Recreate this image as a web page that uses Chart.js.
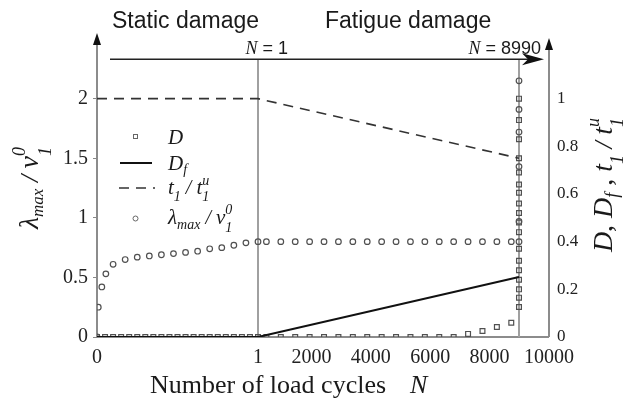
<!DOCTYPE html>
<html>
<head>
<meta charset="utf-8">
<script src="https://cdn.jsdelivr.net/npm/chart.js@4/dist/chart.umd.min.js"></script>
<style>
  body { margin: 0; background: #fff; }
  canvas { display: block; }
</style>
</head>
<body>
<canvas id="myChart" width="632" height="405"></canvas>
<script>
// static part: load fraction within the first cycle (0..1)
var staticS = [0, 0.05, 0.1, 0.15, 0.2, 0.25, 0.3, 0.35, 0.4, 0.45, 0.5, 0.55, 0.6, 0.65, 0.7, 0.75, 0.8, 0.85, 0.9, 0.95, 1];
var dStatic = [0, 0, 0, 0, 0, 0, 0, 0, 0, 0, 0, 0, 0, 0, 0, 0, 0, 0, 0, 0, 0];

var lamStaticS = [0, 0.008, 0.03, 0.055, 0.1, 0.175, 0.25, 0.325, 0.4, 0.475, 0.55, 0.625, 0.7, 0.775, 0.85, 0.925, 1];
var lamStatic = [0, 0.25, 0.42, 0.53, 0.61, 0.65, 0.67, 0.68, 0.69, 0.70, 0.71, 0.72, 0.74, 0.75, 0.77, 0.79, 0.80];

// fatigue part: number of load cycles
var fatigueN = [485, 970, 1455, 1940, 2425, 2910, 3395, 3880, 4365, 4850, 5335, 5820, 6305, 6790, 7275, 7760, 8245, 8730];
var dFatigue = [0, 0, 0, 0, 0, 0, 0, 0, 0, 0, 0, 0, 0, 0, 0.013, 0.025, 0.042, 0.06];
var lamFatigue = [0.8, 0.8, 0.8, 0.8, 0.8, 0.8, 0.8, 0.8, 0.8, 0.8, 0.8, 0.8, 0.8, 0.8, 0.8, 0.8, 0.8, 0.8];

// values stacked at failure, N = 8990
var failN = 8990;
var dFail = [0.126, 0.165, 0.20, 0.24, 0.28, 0.32, 0.37, 0.44, 0.48, 0.52, 0.56, 0.605, 0.64, 0.69, 0.75, 0.83, 0.91, 1.0];
var lamFail = [0.8, 0.97, 1.43, 1.72, 1.91, 2.15];

// Df and t1/t1u lines
var dfS = [0, 1], dfStatic = [0, 0];
var dfN = [1, 8990], dfFatigue = [0, 0.252];
var tS = [0, 1], tStatic = [1, 1];
var tN = [1, 8990], tFatigue = [1, 0.75];

var xTickLabels = ['0', '1', '2000', '4000', '6000', '8000', '10000'];
var xTickStatic = [0, 1];
var xTickFatigue = [2000, 4000, 6000, 8000, 10000];
var yLeftTicks = [0, 0.5, 1, 1.5, 2];
var yRightTicks = [0, 0.2, 0.4, 0.6, 0.8, 1];

// broken x axis: static 0..1 then cycles
function sx(s) { return 161 * s; }
function nx(n) { return Math.max(161, 155 + n * 0.0297); }

function pts(xs, ys, f) {
    return xs.map(function (v, i) { return { x: f(v), y: ys[i] }; });
}
function failPts(ys) {
    return ys.map(function (v) { return { x: nx(failN), y: v }; });
}

var serif = '"Liberation Serif", "DejaVu Serif", serif';
var sans = '"Liberation Sans", Arial, sans-serif';

function drawRich(ctx, x, y, runs, draw) {
    var cx = x, prevX = x;
    runs.forEach(function (r) {
        ctx.font = (r.i ? 'italic ' : '') + r.s + 'px ' + (r.f || serif);
        var w = ctx.measureText(r.t).width;
        var px = r.back ? prevX : cx;
        if (draw) ctx.fillText(r.t, px, y + (r.dy || 0));
        if (r.back) { cx = Math.max(cx, px + w); } else { prevX = px; cx = px + w; }
    });
    return cx - x;
}

function arrowUp(ctx, x, tipY) {
    ctx.beginPath();
    ctx.moveTo(x, tipY);
    ctx.lineTo(x - 4, tipY + 12);
    ctx.lineTo(x + 4, tipY + 12);
    ctx.closePath();
    ctx.fill();
}

var decor = {
    id: 'decor',
    beforeDatasetsDraw: function (chart) {
        var ctx = chart.ctx, a = chart.chartArea;
        var x = chart.scales.x, yL = chart.scales.yL;
        var x1 = x.getPixelForValue(sx(1)), x2 = x.getPixelForValue(nx(failN));
        var topY = yL.getPixelForValue(2.33);
        ctx.save();
        ctx.strokeStyle = '#8c8c8c';
        ctx.lineWidth = 2;
        ctx.beginPath();
        ctx.moveTo(a.left, a.bottom); ctx.lineTo(a.left, 40);
        ctx.moveTo(a.left, a.bottom); ctx.lineTo(a.right, a.bottom);
        ctx.moveTo(a.right, a.bottom); ctx.lineTo(a.right, 45);
        ctx.stroke();
        ctx.strokeStyle = '#a0a0a0';
        ctx.beginPath();
        ctx.moveTo(x1, topY); ctx.lineTo(x1, a.bottom);
        ctx.moveTo(x2, topY); ctx.lineTo(x2, a.bottom);
        ctx.stroke();
        ctx.fillStyle = '#111';
        arrowUp(ctx, a.left, 33);
        arrowUp(ctx, a.right, 38);
        // top arrow
        ctx.strokeStyle = '#222';
        ctx.lineWidth = 1.5;
        ctx.beginPath();
        ctx.moveTo(110, topY); ctx.lineTo(533, topY);
        ctx.stroke();
        ctx.beginPath();
        ctx.moveTo(544, topY);
        ctx.lineTo(522, topY - 6);
        ctx.lineTo(528, topY);
        ctx.lineTo(522, topY + 6);
        ctx.closePath();
        ctx.fill();
        ctx.restore();
    },
    afterDraw: function (chart) {
        var ctx = chart.ctx;
        ctx.save();
        ctx.fillStyle = '#1a1a1a';
        ctx.textBaseline = 'alphabetic';
        ctx.textAlign = 'left';

        ctx.font = '23px ' + sans;
        ctx.fillText('Static damage', 112, 28);
        ctx.fillText('Fatigue damage', 325, 28);

        var n1 = [{ t: 'N', s: 18, i: true }, { t: ' = 1', s: 18, f: sans }];
        var w = drawRich(ctx, 0, 0, n1, false);
        drawRich(ctx, 288 - w, 54, n1, true);
        var n2 = [{ t: 'N', s: 18, i: true }, { t: ' = 8990', s: 18, f: sans }];
        w = drawRich(ctx, 0, 0, n2, false);
        drawRich(ctx, 541 - w, 54, n2, true);

        // x title
        ctx.font = '26px ' + serif;
        ctx.fillText('Number of load cycles', 150, 393);
        ctx.font = 'italic 26px ' + serif;
        ctx.fillText('N', 410, 393);

        // left y title
        var lt = [
            { t: '\u03bb', s: 28, i: true },
            { t: 'max', s: 17, i: true, dy: 5 },
            { t: ' / ', s: 26, i: true },
            { t: 'v', s: 28, i: true },
            { t: '1', s: 18, i: true, dy: 13 },
            { t: '0', s: 18, i: true, dy: -13, back: true }
        ];
        w = drawRich(ctx, 0, 0, lt, false);
        ctx.save();
        ctx.translate(38, 188);
        ctx.rotate(-Math.PI / 2);
        drawRich(ctx, -w / 2, 0, lt, true);
        ctx.restore();

        // right y title
        var rt = [
            { t: 'D', s: 28, i: true },
            { t: ', ', s: 28 },
            { t: 'D', s: 28, i: true },
            { t: 'f', s: 18, i: true, dy: 6 },
            { t: ' , ', s: 28 },
            { t: 't', s: 28, i: true },
            { t: '1', s: 18, i: true, dy: 11 },
            { t: ' / ', s: 26, i: true },
            { t: 't', s: 28, i: true },
            { t: '1', s: 18, i: true, dy: 11 },
            { t: 'u', s: 18, i: true, dy: -13, back: true }
        ];
        w = drawRich(ctx, 0, 0, rt, false);
        ctx.save();
        ctx.translate(612, 185);
        ctx.rotate(-Math.PI / 2);
        drawRich(ctx, -w / 2, 0, rt, true);
        ctx.restore();

        // legend
        var lx = 168;
        ctx.strokeStyle = '#666';
        ctx.lineWidth = 1;
        ctx.strokeRect(133.5, 134.5, 4, 4);
        ctx.beginPath();
        ctx.arc(135.5, 218.5, 2.5, 0, Math.PI * 2);
        ctx.stroke();
        ctx.strokeStyle = '#111';
        ctx.lineWidth = 2;
        ctx.beginPath();
        ctx.moveTo(120, 163); ctx.lineTo(152, 163);
        ctx.stroke();
        ctx.strokeStyle = '#333';
        ctx.lineWidth = 1.6;
        ctx.setLineDash([10, 7]);
        ctx.beginPath();
        ctx.moveTo(119, 188); ctx.lineTo(155, 188);
        ctx.stroke();
        ctx.setLineDash([]);

        drawRich(ctx, lx, 144, [{ t: 'D', s: 21, i: true }], true);
        drawRich(ctx, lx, 170, [{ t: 'D', s: 21, i: true }, { t: 'f', s: 14, i: true, dy: 4 }], true);
        drawRich(ctx, lx, 194, [
            { t: 't', s: 21, i: true }, { t: '1', s: 14, i: true, dy: 7 },
            { t: ' / ', s: 20, i: true },
            { t: 't', s: 21, i: true }, { t: '1', s: 14, i: true, dy: 7 },
            { t: 'u', s: 14, i: true, dy: -9, back: true }
        ], true);
        drawRich(ctx, lx, 224, [
            { t: '\u03bb', s: 21, i: true }, { t: 'max', s: 14, i: true, dy: 5 },
            { t: ' / ', s: 20, i: true },
            { t: 'v', s: 21, i: true }, { t: '1', s: 14, i: true, dy: 8 },
            { t: '0', s: 14, i: true, dy: -10, back: true }
        ], true);
        ctx.restore();
    }
};

function chart() {
    var ctx = document.getElementById('myChart').getContext('2d');
    var marker = '#505050';

    var data = {
        datasets: [
            {
                label: 'Df',
                type: 'line',
                data: pts(dfS, dfStatic, sx).concat(pts(dfN, dfFatigue, nx)),
                yAxisID: 'yR',
                borderColor: '#111',
                borderWidth: 2,
                pointRadius: 0,
                fill: false
            },
            {
                label: 't1/t1u',
                type: 'line',
                data: pts(tS, tStatic, sx).concat(pts(tN, tFatigue, nx)),
                yAxisID: 'yR',
                borderColor: '#333',
                borderWidth: 1.6,
                borderDash: [10, 7],
                pointRadius: 0,
                fill: false
            },
            {
                label: 'D',
                type: 'scatter',
                data: pts(staticS, dStatic, sx).concat(pts(fatigueN, dFatigue, nx), failPts(dFail)),
                yAxisID: 'yR',
                pointStyle: 'rect',
                pointRadius: 3.4,
                borderColor: marker,
                borderWidth: 1.2,
                backgroundColor: 'rgba(255,255,255,0)'
            },
            {
                label: 'lambda',
                type: 'scatter',
                data: pts(lamStaticS, lamStatic, sx).concat(pts(fatigueN, lamFatigue, nx), failPts(lamFail)),
                yAxisID: 'yL',
                pointStyle: 'circle',
                pointRadius: 2.8,
                borderColor: marker,
                borderWidth: 1.2,
                backgroundColor: 'rgba(255,255,255,0)'
            }
        ]
    };

    var xTickPos = xTickStatic.map(sx).concat(xTickFatigue.map(nx));
    function fmt(v) { return String(Math.round(v * 10) / 10); }

    new Chart(ctx, {
        type: 'scatter',
        data: data,
        options: {
            responsive: false,
            animation: false,
            devicePixelRatio: 1,
            layout: { padding: { top: 51, left: 0, right: 0, bottom: 0 } },
            plugins: { legend: { display: false }, tooltip: { enabled: false } },
            scales: {
                x: {
                    type: 'linear',
                    min: 0,
                    max: 452,
                    border: { display: false },
                    grid: { display: false, drawTicks: false },
                    afterBuildTicks: function (scale) {
                        scale.ticks = xTickPos.map(function (v) { return { value: v }; });
                    },
                    afterFit: function (scale) { scale.height = 68; },
                    ticks: {
                        autoSkip: false,
                        maxRotation: 0,
                        padding: 9,
                        color: '#222',
                        font: { family: serif, size: 20 },
                        callback: function (v, i) { return xTickLabels[i]; }
                    }
                },
                yL: {
                    position: 'left',
                    min: 0,
                    max: 2.4,
                    border: { display: false },
                    grid: { drawOnChartArea: false, drawTicks: true, tickLength: 4, color: '#888' },
                    afterBuildTicks: function (scale) {
                        scale.ticks = yLeftTicks.map(function (v) { return { value: v }; });
                    },
                    afterFit: function (scale) { scale.width = 97; },
                    ticks: {
                        padding: 5,
                        color: '#222',
                        font: { family: serif, size: 20 },
                        callback: fmt
                    }
                },
                yR: {
                    position: 'right',
                    min: 0,
                    max: 1.2,
                    border: { display: false },
                    grid: { drawOnChartArea: false, drawTicks: false },
                    afterBuildTicks: function (scale) {
                        scale.ticks = yRightTicks.map(function (v) { return { value: v }; });
                    },
                    afterFit: function (scale) { scale.width = 83; },
                    ticks: {
                        padding: 8,
                        color: '#222',
                        font: { family: serif, size: 17 },
                        callback: fmt
                    }
                }
            }
        },
        plugins: [decor]
    });
}

chart();
</script>
</body>
</html>
